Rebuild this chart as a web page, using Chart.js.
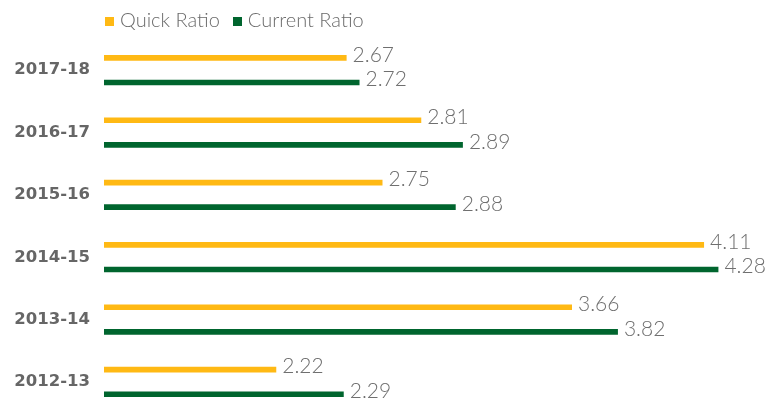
<!DOCTYPE html>
<html>
<head>
<meta charset="utf-8">
<script src="https://cdn.jsdelivr.net/npm/chart.js@4.4.0/dist/chart.umd.min.js"></script>
<style>
  html, body { margin: 0; padding: 0; background: #fff; overflow: hidden; }
  #wrap { position: relative; width: 779px; height: 437px; }
  #legend { position: absolute; top: 8px; left: 105px; font-family: Lato, sans-serif; font-weight: 300; font-size: 20px; color: #6b6b6b; white-space: nowrap; line-height: 22px; }
  #legend span.item { margin-right: 13px; }
  #legend span.box { display: inline-block; width: 9px; height: 9px; margin-right: 6px; vertical-align: 1px; }
</style>
</head>
<body>
<div id="wrap">
  <canvas id="chart" width="779" height="437"></canvas>
  <div id="legend"></div>
</div>
<script>
// Data (chronological; axis is reversed so latest year sits on top)
const years = ['2012-13', '2013-14', '2014-15', '2015-16', '2016-17', '2017-18'];

// printed values next to each bar
const quickLabels = ['2.22', '3.66', '4.11', '2.75', '2.81', '2.67'];
const currentLabels = ['2.29', '3.82', '4.28', '2.88', '2.89', '2.72'];

// bar lengths as drawn in the picture (same units as the labels)
const quickBars = [1.20, 3.26, 4.18, 1.94, 2.21, 1.69];
const currentBars = [1.67, 3.58, 4.28, 2.45, 2.50, 1.78];

const seriesNames = ['Quick Ratio', 'Current Ratio'];
const seriesColors = ['#FFB914', '#00652E'];

const labelColor = '#6f6f6f';

// Draw the value text at the end of each bar
const valueLabels = {
    id: 'valueLabels',
    afterDatasetsDraw(chart) {
        const ctx = chart.ctx;
        const texts = [quickLabels, currentLabels];
        ctx.save();
        ctx.font = '300 21px Lato, sans-serif';
        ctx.fillStyle = labelColor;
        ctx.textAlign = 'left';
        ctx.textBaseline = 'middle';
        chart.data.datasets.forEach((ds, di) => {
            const meta = chart.getDatasetMeta(di);
            meta.data.forEach((bar, i) => {
                ctx.fillText(texts[di][i], bar.x + 6, bar.y - 3);
            });
        });
        ctx.restore();
    }
};

const chartCanvas = document.getElementById('chart');

const myChart = new Chart(chartCanvas, {
    type: 'bar',
    data: {
        labels: years,
        datasets: [
            {
                label: seriesNames[0],
                data: quickBars,
                backgroundColor: seriesColors[0],
                categoryPercentage: 0.79,
                barPercentage: 0.23
            },
            {
                label: seriesNames[1],
                data: currentBars,
                backgroundColor: seriesColors[1],
                categoryPercentage: 0.79,
                barPercentage: 0.23
            }
        ]
    },
    options: {
        indexAxis: 'y',
        responsive: false,
        animation: false,
        layout: {
            padding: { top: 39, right: 29, bottom: 8, left: 0 }
        },
        scales: {
            x: {
                display: false,
                min: 0,
                max: 4.5
            },
            y: {
                reverse: true,
                grid: { display: false, drawTicks: false },
                border: { display: false },
                ticks: {
                    padding: 14,
                    color: '#666666',
                    font: { family: 'DejaVu Sans', weight: 'bold', size: 16.5 }
                },
                afterFit: function(scale) {
                    scale.width = 104;
                }
            }
        },
        plugins: {
            legend: { display: false },
            tooltip: { enabled: false }
        }
    },
    plugins: [valueLabels]
});

// Simple html legend from the datasets
const legendEl = document.getElementById('legend');
legendEl.innerHTML = myChart.data.datasets.map(ds =>
    `<span class="item"><span class="box" style="background:${ds.backgroundColor}"></span>${ds.label}</span>`
).join('');
</script>
</body>
</html>
